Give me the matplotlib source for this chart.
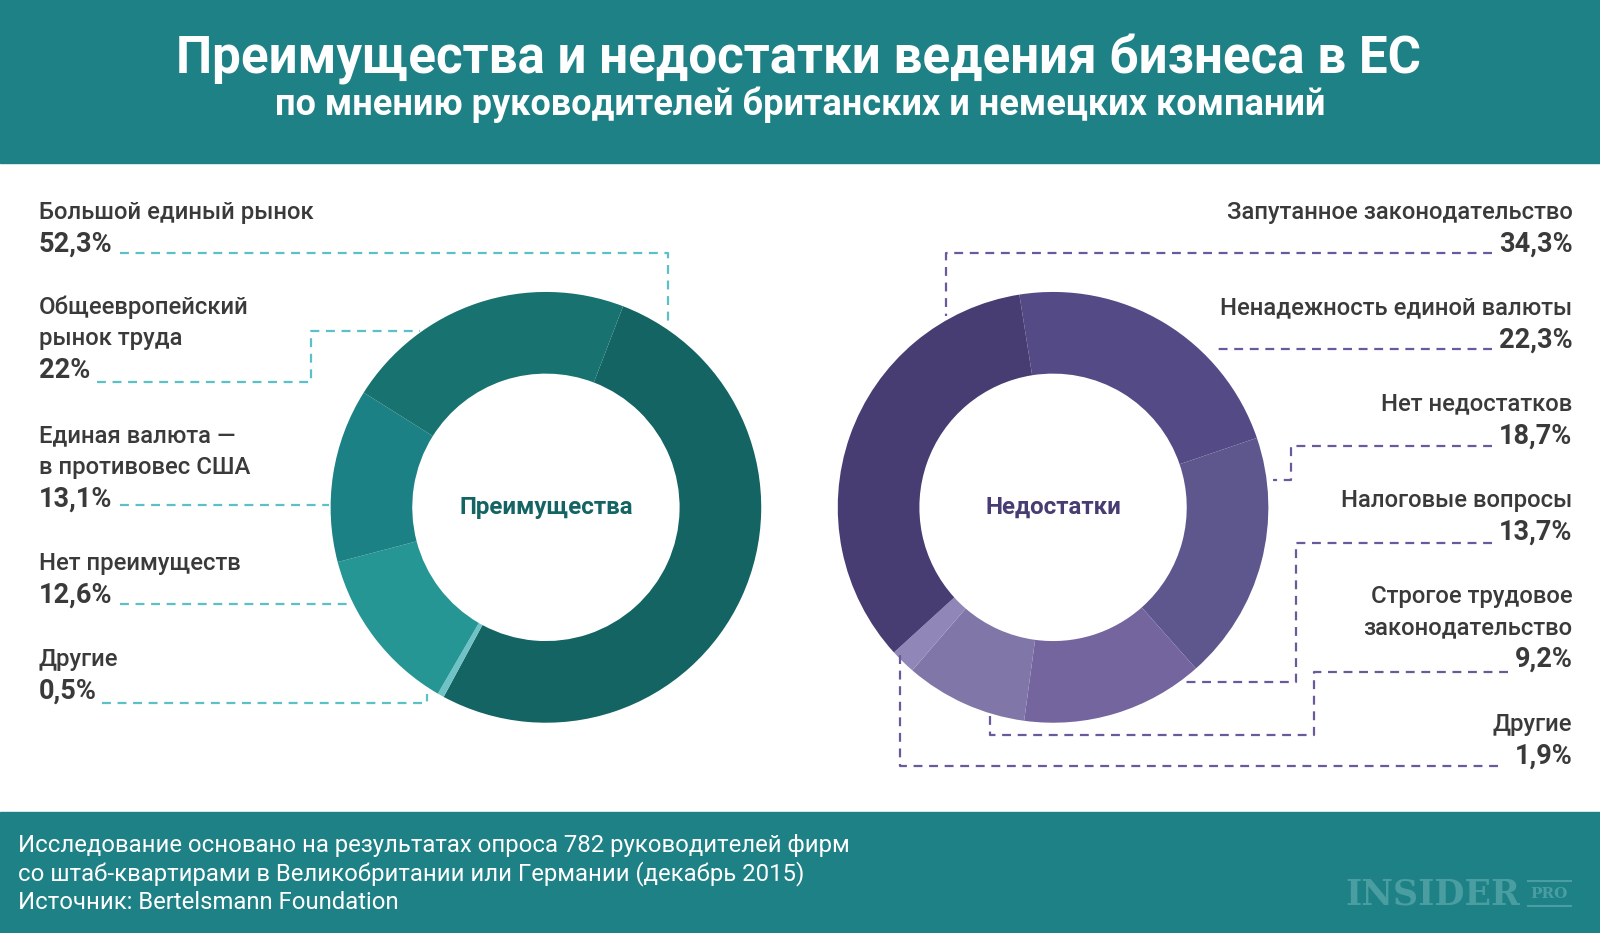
import matplotlib.pyplot as plt
from matplotlib.patches import Rectangle

# Data
adv_labels = [["Большой единый рынок"], ["Общеевропейский", "рынок труда"],
              ["Единая валюта —", "в противовес США"], ["Нет преимуществ"], ["Другие"]]
adv_values = [52.3, 22.0, 13.1, 12.6, 0.5]
adv_text = ["52,3%", "22%", "13,1%", "12,6%", "0,5%"]
dis_labels = [["Запутанное законодательство"], ["Ненадежность единой валюты"],
              ["Нет недостатков"], ["Налоговые вопросы"],
              ["Строгое трудовое", "законодательство"], ["Другие"]]
dis_values = [34.3, 22.3, 18.7, 13.7, 9.2, 1.9]
dis_text = ["34,3%", "22,3%", "18,7%", "13,7%", "9,2%", "1,9%"]

TEAL = "#1e8186"
W, H = 1568, 914
plt.rcParams["font.family"] = "Roboto"

fig = plt.figure(figsize=(16, 9.33), dpi=100)
ax = fig.add_axes([0, 0, 1, 1])


def Y(y):
    return H - y


ax.add_patch(Rectangle((0, Y(160)), W, 160, color=TEAL, zorder=0))
ax.add_patch(Rectangle((0, 0), W, H - 795, color=TEAL, zorder=0))
ax.text(W / 2 - 1, Y(58), "Преимущества и недостатки ведения бизнеса в ЕС", color="white",
        fontsize=36.8, fontweight="bold", ha="center", va="center")
ax.text(W / 2, Y(103), "по мнению руководителей британских и немецких компаний", color="white",
        fontsize=26, fontweight="bold", ha="center", va="center")
foot = ["Исследование основано на результатах опроса 782 руководителей фирм",
        "со штаб-квартирами в Великобритании или Германии (декабрь 2015)",
        "Источник: Bertelsmann Foundation"]
for i, line in enumerate(foot):
    ax.text(18, Y(828 + 28 * i), line, color="white", fontsize=17.2, va="center")
ax.text(1490, Y(876), "INSIDER", color="#4a9ea1", fontsize=25, fontweight="bold",
        family="DejaVu Serif", ha="right", va="center")
ax.text(1518, Y(876), "PRO", color="#4a9ea1", fontsize=11, fontweight="bold",
        family="DejaVu Serif", ha="center", va="center")
ax.plot([1497, 1540], [Y(863), Y(863)], color="#4a9ea1", lw=1.5)
ax.plot([1497, 1540], [Y(888), Y(888)], color="#4a9ea1", lw=1.5)

# Left donut: clockwise from 52.3, 0.5, 12.6, 13.1, 22
adv_order = [0, 4, 3, 2, 1]
adv_colors = ["#136462", "#187270", "#1c8184", "#259694", "#6fc3c7"]
ax.pie([adv_values[i] for i in adv_order], colors=[adv_colors[i] for i in adv_order],
       center=(535, Y(497)), radius=211, startangle=69, counterclock=False,
       wedgeprops=dict(width=80, linewidth=0), frame=True)
ax.text(535, Y(497), "Преимущества", color="#136462", fontsize=17.4, fontweight="bold",
        ha="center", va="center")

dis_colors = ["#483d73", "#544a85", "#5d578e", "#74659f", "#8076a8", "#9186b8"]
dis_order = [1, 2, 3, 4, 5, 0]
ax.pie([dis_values[i] for i in dis_order], colors=[dis_colors[i] for i in dis_order],
       center=(1032, Y(497)), radius=211, startangle=99, counterclock=False,
       wedgeprops=dict(width=80, linewidth=0), frame=True)
ax.text(1032, Y(497), "Недостатки", color="#483d73", fontsize=17.4, fontweight="bold",
        ha="center", va="center")

# Labels (one text per line, 31 px apart)
GREY = "#3a3a3a"
adv_top = [208, 301, 427, 552, 646]
for lines, pct, top in zip(adv_labels, adv_text, adv_top):
    for k, line in enumerate(lines):
        ax.text(38, Y(top + 31 * k), line, ha="left", va="center", fontsize=17.2,
                fontweight="medium", color=GREY)
    ax.text(38, Y(top + 31 * len(lines)), pct, ha="left", va="center", fontsize=19.5,
            fontweight="bold", color=GREY)

dis_top = [208, 302, 396, 490, 584, 710]
for lines, pct, top in zip(dis_labels, dis_text, dis_top):
    for k, line in enumerate(lines):
        ax.text(1541, Y(top + 31 * k), line, ha="right", va="center", fontsize=17.2,
                fontweight="medium", color=GREY)
    ax.text(1541, Y(top + 31 * len(lines)), pct, ha="right", va="center", fontsize=19.5,
            fontweight="bold", color=GREY)


# Leader lines
def leader(pts, color):
    xs = [p[0] for p in pts]
    ys = [Y(p[1]) for p in pts]
    ax.plot(xs, ys, color=color, lw=1.6, ls=(0, (4, 3)), zorder=1)


LC, RC = "#5bc0c8", "#6a5a9c"
leader([(118, 248), (655, 248), (655, 320)], LC)
leader([(95, 374), (305, 374), (305, 324), (412, 324)], LC)
leader([(118, 495), (322, 495)], LC)
leader([(118, 592), (345, 592)], LC)
leader([(100, 689), (418, 689), (418, 680)], LC)

leader([(1462, 248), (927, 248), (927, 310)], RC)
leader([(1462, 342), (1190, 342)], RC)
leader([(1462, 437), (1265, 437), (1265, 470), (1248, 470)], RC)
leader([(1462, 532), (1270, 532), (1270, 668), (1160, 668)], RC)
leader([(1478, 658), (1288, 658), (1288, 720), (970, 720), (970, 700)], RC)
leader([(1468, 750), (882, 750), (882, 640)], RC)

ax.set_xlim(0, W)
ax.set_ylim(0, H)
ax.set_aspect("auto")
ax.axis("off")
fig.savefig("out.png", dpi=100, facecolor="white")
